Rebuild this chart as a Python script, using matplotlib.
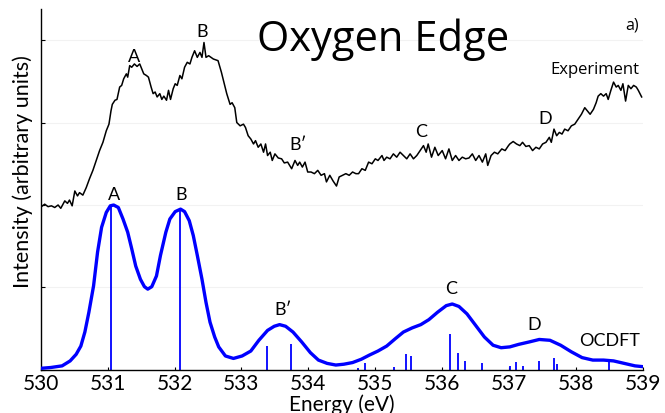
import matplotlib
matplotlib.use("Agg")
import matplotlib.pyplot as plt

# ---------------- data ----------------
exp_energy = [
    530.01, 530.06, 530.11, 530.16, 530.21, 530.26, 530.30, 530.36, 530.40, 530.43,
    530.47, 530.51, 530.55, 530.58, 530.63, 530.68, 530.73, 530.78, 530.83, 530.88,
    530.93, 530.98, 531.02, 531.05, 531.07, 531.11, 531.14, 531.18, 531.21, 531.24,
    531.28, 531.30, 531.33, 531.36, 531.40, 531.44, 531.48, 531.51, 531.54, 531.58,
    531.61, 531.65, 531.68, 531.71, 531.74, 531.78, 531.81, 531.84, 531.88, 531.91,
    531.94, 531.98, 532.01, 532.04, 532.08, 532.11, 532.15, 532.19, 532.23, 532.26,
    532.30, 532.34, 532.38, 532.41, 532.44, 532.47, 532.51, 532.58, 532.65, 532.70,
    532.78, 532.83, 532.86, 532.90, 532.93, 532.98, 533.03, 533.06, 533.10, 533.14,
    533.18, 533.21, 533.25, 533.29, 533.33, 533.36, 533.39, 533.43, 533.46, 533.50,
    533.55, 533.60, 533.64, 533.69, 533.75, 533.80, 533.84, 533.87, 533.91, 533.95,
    533.99, 534.04, 534.09, 534.14, 534.19, 534.24, 534.27, 534.32, 534.37, 534.42,
    534.46, 534.51, 534.56, 534.61, 534.66, 534.71, 534.75, 534.80, 534.85, 534.90,
    534.95, 535.00, 535.04, 535.10, 535.13, 535.17, 535.22, 535.27, 535.32, 535.37,
    535.42, 535.47, 535.52, 535.57, 535.62, 535.67, 535.72, 535.76, 535.79, 535.84,
    535.89, 535.94, 536.00, 536.05, 536.10, 536.15, 536.20, 536.25, 536.30, 536.35,
    536.40, 536.45, 536.50, 536.55, 536.60, 536.65, 536.68, 536.73, 536.78, 536.83,
    536.89, 536.94, 536.99, 537.01, 537.06, 537.11, 537.16, 537.20, 537.25, 537.30,
    537.35, 537.40, 537.45, 537.50, 537.55, 537.60, 537.63, 537.67, 537.71, 537.75,
    537.79, 537.83, 537.88, 537.93, 537.98, 538.03, 538.08, 538.13, 538.17, 538.21,
    538.26, 538.30, 538.33, 538.37, 538.41, 538.45, 538.48, 538.52, 538.56, 538.60,
    538.63, 538.67, 538.70, 538.74, 538.78, 538.82, 538.86, 538.90, 538.93, 538.98,
]
exp_intensity = [
    1.98, 2.01, 1.98, 1.99, 1.97, 2.00, 1.96, 2.05, 2.02, 2.06,
    1.99, 2.17, 2.11, 2.15, 2.12, 2.21, 2.32, 2.42, 2.54, 2.66,
    2.76, 2.90, 2.98, 3.14, 3.22, 3.27, 3.28, 3.43, 3.45, 3.53,
    3.59, 3.55, 3.69, 3.67, 3.71, 3.68, 3.71, 3.65, 3.59, 3.57,
    3.55, 3.43, 3.35, 3.37, 3.31, 3.35, 3.28, 3.32, 3.27, 3.39,
    3.28, 3.41, 3.47, 3.45, 3.57, 3.53, 3.67, 3.73, 3.71, 3.79,
    3.87, 3.79, 3.85, 3.79, 3.97, 3.79, 3.81, 3.77, 3.75, 3.61,
    3.35, 3.22, 3.24, 3.18, 3.00, 2.96, 2.98, 2.94, 2.84, 2.80,
    2.74, 2.78, 2.70, 2.74, 2.64, 2.74, 2.60, 2.64, 2.54, 2.62,
    2.57, 2.56, 2.51, 2.52, 2.44, 2.54, 2.48, 2.52, 2.46, 2.52,
    2.40, 2.40, 2.38, 2.42, 2.36, 2.38, 2.28, 2.36, 2.29, 2.23,
    2.34, 2.36, 2.38, 2.36, 2.40, 2.38, 2.38, 2.44, 2.42, 2.52,
    2.50, 2.56, 2.54, 2.60, 2.54, 2.58, 2.56, 2.62, 2.58, 2.64,
    2.60, 2.56, 2.62, 2.56, 2.60, 2.66, 2.72, 2.64, 2.74, 2.58,
    2.70, 2.60, 2.66, 2.56, 2.68, 2.54, 2.60, 2.54, 2.58, 2.56,
    2.57, 2.62, 2.54, 2.60, 2.52, 2.62, 2.48, 2.60, 2.64, 2.62,
    2.68, 2.66, 2.72, 2.74, 2.77, 2.74, 2.72, 2.76, 2.71, 2.72,
    2.66, 2.70, 2.68, 2.74, 2.76, 2.82, 2.76, 2.92, 2.84, 2.88,
    2.86, 2.92, 2.90, 2.96, 2.98, 3.04, 3.10, 3.18, 3.14, 3.10,
    3.16, 3.24, 3.32, 3.35, 3.32, 3.35, 3.28, 3.39, 3.49, 3.43,
    3.45, 3.39, 3.47, 3.26, 3.45, 3.41, 3.45, 3.43, 3.39, 3.31,
]

calc_energy = [
    530.00, 530.15, 530.32, 530.44, 530.53, 530.60, 530.66, 530.72, 530.79, 530.85,
    530.91, 530.98, 531.04, 531.09, 531.16, 531.23, 531.30, 531.36, 531.42, 531.49,
    531.55, 531.60, 531.66, 531.73, 531.79, 531.87, 531.93, 532.01, 532.09, 532.15,
    532.22, 532.28, 532.34, 532.41, 532.47, 532.53, 532.60, 532.66, 532.76, 532.88,
    533.01, 533.14, 533.26, 533.39, 533.49, 533.57, 533.66, 533.77, 533.90, 534.03,
    534.15, 534.28, 534.41, 534.53, 534.66, 534.79, 534.91, 535.04, 535.17, 535.30,
    535.42, 535.55, 535.68, 535.80, 535.93, 536.06, 536.15, 536.25, 536.37, 536.50,
    536.63, 536.76, 536.88, 537.01, 537.14, 537.30, 537.45, 537.61, 537.77, 537.93,
    538.09, 538.25, 538.41, 538.56, 538.72, 538.88, 539.00,
]
calc_intensity = [
    0.02, 0.03, 0.05, 0.11, 0.19, 0.29, 0.46, 0.70, 1.02, 1.43,
    1.73, 1.91, 1.99, 2.00, 1.97, 1.83, 1.67, 1.47, 1.26, 1.10,
    1.01, 0.98, 1.01, 1.14, 1.39, 1.67, 1.83, 1.92, 1.95, 1.92,
    1.81, 1.63, 1.39, 1.10, 0.82, 0.58, 0.40, 0.28, 0.17, 0.14,
    0.17, 0.23, 0.36, 0.48, 0.53, 0.55, 0.53, 0.46, 0.34, 0.21,
    0.12, 0.08, 0.06, 0.07, 0.09, 0.13, 0.18, 0.23, 0.29, 0.38,
    0.46, 0.51, 0.55, 0.61, 0.70, 0.78, 0.80, 0.77, 0.68, 0.54,
    0.40, 0.30, 0.27, 0.28, 0.31, 0.34, 0.37, 0.36, 0.30, 0.22,
    0.15, 0.12, 0.12, 0.11, 0.08, 0.05, 0.04,
]

stick_energy = [
    531.05, 532.08, 533.38, 533.74, 534.74, 534.85, 535.28, 535.46, 535.53, 536.12,
    536.24, 536.34, 536.60, 537.02, 537.10, 537.21, 537.45, 537.67, 537.72, 538.49,
]
stick_height = [
    1.99, 1.94, 0.29, 0.32, 0.02, 0.09, 0.04, 0.19, 0.17, 0.44,
    0.21, 0.11, 0.08, 0.05, 0.10, 0.05, 0.11, 0.15, 0.07, 0.12,
]

x_ticks = [530, 531, 532, 533, 534, 535, 536, 537, 538, 539]
y_ticks = [0, 1, 2, 3, 4]

# ---------------- figure ----------------
fig = plt.figure(figsize=(6.65, 4.14), dpi=100)
ax = fig.add_axes([0.0612, 0.1039, 0.9057, 0.8719])

for y in y_ticks[1:]:
    ax.axhline(y, color="#f2f2f2", lw=0.8, zorder=0)

ax.plot(exp_energy, exp_intensity, color="black", lw=1.1, zorder=3)
ax.plot(calc_energy, calc_intensity, color="#0000ff", lw=2.4, zorder=3,
        solid_capstyle="round", solid_joinstyle="round")
ax.vlines(stick_energy, 0, stick_height, color="#0000ff", lw=1.3, zorder=2)

ax.set_xlim(530, 539)
ax.set_ylim(0, 4.376)
ax.set_xticks(x_ticks)
ax.set_yticks(y_ticks)
ax.set_yticklabels([])
ax.tick_params(axis="x", direction="in", length=2.5, width=0.8, pad=2,
               labelsize=15)
ax.tick_params(axis="y", direction="in", length=3, width=0.8)
for lab in ax.get_xticklabels():
    lab.set_fontfamily("Lato")

for s in ("top", "right"):
    ax.spines[s].set_visible(False)
for s in ("left", "bottom"):
    ax.spines[s].set_linewidth(1.0)

ax.set_xlabel("Energy (eV)", fontsize=15, family="Lato", labelpad=0.5)
ax.set_ylabel("Intensity (arbitrary units)", fontsize=15.5, family="Lato")
ax.yaxis.set_label_coords(-0.012, 0.553)

lf = dict(family="Lato", fontsize=13, ha="center", va="center", zorder=4)
# experiment labels
ax.text(531.40, 3.81, "A", **lf)
ax.text(532.41, 4.11, "B", **lf)
ax.text(533.85, 2.74, "B\u2032", **lf)
ax.text(535.68, 2.90, "C", **lf)
ax.text(537.54, 3.06, "D", **lf)
ax.text(538.28, 3.65, "Experiment", family="Open Sans", fontsize=12,
        ha="center", va="center")
# calculation labels
ax.text(531.10, 2.13, "A", **lf)
ax.text(532.10, 2.13, "B", **lf)
ax.text(533.62, 0.74, "B\u2032", **lf)
ax.text(536.13, 0.99, "C", **lf)
ax.text(537.38, 0.56, "D", **lf)
ax.text(538.50, 0.36, "OCDFT", **lf)

ax.text(535.12, 4.01, "Oxygen Edge", family="Open Sans", fontsize=30,
        ha="center", va="center")
ax.text(538.83, 4.19, "a)", family="Open Sans", fontsize=11.5,
        ha="center", va="center")

fig.savefig("out.png", dpi=100)
